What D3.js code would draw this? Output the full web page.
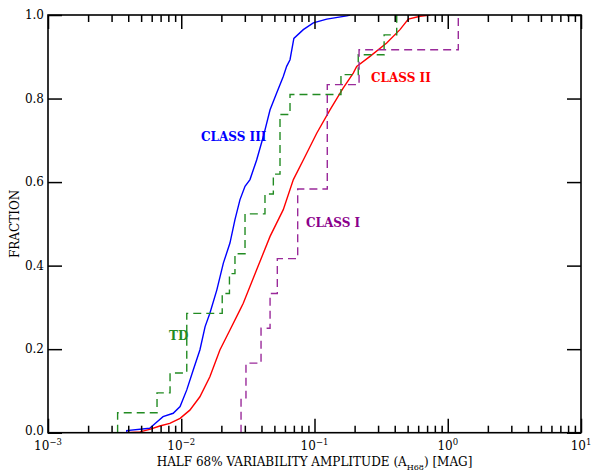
<!DOCTYPE html>
<html><head><meta charset="utf-8">
<script src="https://cdn.jsdelivr.net/npm/d3@7"></script>
<style>body{margin:0;background:#fff}</style>
</head><body>
<svg id="chart" width="594" height="471"></svg>
<script>
// ---- data ----
// CLASS III cumulative distribution [amplitude, fraction]
const classIII = [[0.0039,0.000],[0.0039,0.005],[0.0058,0.0105],[0.0064,0.0225],[0.0073,0.0385],[0.0087,0.0465],[0.0098,0.0625],[0.0110,0.1025],[0.0123,0.150],[0.0138,0.198],[0.0151,0.254],[0.0164,0.286],[0.0185,0.342],[0.0207,0.406],[0.0232,0.454],[0.0253,0.510],[0.0276,0.558],[0.0301,0.590],[0.0328,0.606],[0.0368,0.653],[0.0413,0.709],[0.0464,0.773],[0.0520,0.813],[0.0583,0.853],[0.0618,0.877],[0.0655,0.893],[0.0700,0.944],[0.0824,0.965],[0.0980,0.981],[0.1236,0.990],[0.1746,0.998],[0.1850,1.000]];
// CLASS II cumulative distribution [amplitude, fraction]
const classII = [[0.0038,0.000],[0.0049,0.002],[0.0058,0.008],[0.0069,0.016],[0.0082,0.0225],[0.0098,0.0345],[0.0116,0.054],[0.0138,0.086],[0.0164,0.134],[0.0195,0.198],[0.0232,0.246],[0.0276,0.294],[0.0292,0.310],[0.0368,0.390],[0.0464,0.470],[0.0583,0.534],[0.0694,0.606],[0.0824,0.653],[0.1039,0.717],[0.1307,0.773],[0.1640,0.825],[0.1954,0.861],[0.2073,0.877],[0.2610,0.901],[0.3480,0.933],[0.4380,0.965],[0.5060,0.990],[0.6200,0.997],[0.7400,1.000]];
// TD individual amplitudes (21 objects)
const tdValues = [0.00333,0.00658,0.00824,0.0110,0.0110,0.0110,0.0203,0.0230,0.0253,0.0301,0.0301,0.0425,0.0491,0.0551,0.0551,0.0551,0.0655,0.158,0.213,0.333,0.414];
// CLASS I individual amplitudes (12 objects)
const classIValues = [0.0281,0.0306,0.0397,0.0464,0.0526,0.0748,0.0748,0.1247,0.1247,0.1247,0.216,1.2];
const xTickExponents = [-3,-2,-1,0,1];
const yTickValues = [0,0.2,0.4,0.6,0.8,1.0];
const yTickLabels = ["0.0","0.2","0.4","0.6","0.8","1.0"];
const seriesNames = ["CLASS III","CLASS II","CLASS I","TD"];
const xTitle = ["HALF 68% VARIABILITY AMPLITUDE (A","H68",") [MAG]"];
const yTitle = "FRACTION";

// ---- layout ----
const svg = d3.select("#chart");
const L = 48, R = 581, T = 15, B = 432.7;
const FONT = "'DejaVu Serif', serif";
const x = d3.scaleLog().domain([1e-3, 10]).range([L, R]);
const y = d3.scaleLinear().domain([0, 1]).range([B, T]);

const majorX = xTickExponents.map(e => Math.pow(10, e));
const minorX = [];
xTickExponents.slice(0, -1).forEach(e => { for (let k = 2; k <= 9; k++) minorX.push(k * Math.pow(10, e)); });

svg.append("clipPath").attr("id", "clip").append("rect")
  .attr("x", L).attr("y", T).attr("width", R - L).attr("height", B - T);

const plot = svg.append("g").attr("clip-path", "url(#clip)");

function ecdf(vals) {
  const s = vals.slice().sort((a, b) => a - b), n = s.length, pts = [];
  s.forEach((v, i) => { pts.push([v, i / n]); pts.push([v, (i + 1) / n]); });
  return pts;
}
const line = d3.line().x(d => x(d[0])).y(d => y(d[1]));

plot.append("path").datum(classIII).attr("d", line)
  .attr("fill", "none").attr("stroke", "#0000ff").attr("stroke-width", 1.4);
plot.append("path").datum(classII).attr("d", line)
  .attr("fill", "none").attr("stroke", "#ff0000").attr("stroke-width", 1.4);
plot.append("path").datum(ecdf(tdValues)).attr("d", line)
  .attr("fill", "none").attr("stroke", "#228b22").attr("stroke-width", 1.4)
  .attr("stroke-dasharray", "8,5");
plot.append("path").datum(ecdf(classIValues)).attr("d", line)
  .attr("fill", "none").attr("stroke", "#9a2a9a").attr("stroke-width", 1.4)
  .attr("stroke-dasharray", "8,5");

// ---- axes / ticks ----
function styleAxis(g) {
  g.select(".domain").remove();
  g.selectAll(".tick line").attr("stroke", "#000").attr("stroke-width", 1.5);
}
svg.append("g").attr("transform", `translate(0,${B})`)
  .call(d3.axisBottom(x).tickValues(majorX).tickSize(-14).tickFormat("")).call(styleAxis);
svg.append("g").attr("transform", `translate(0,${B})`)
  .call(d3.axisBottom(x).tickValues(minorX).tickSize(-7).tickFormat("")).call(styleAxis);
svg.append("g").attr("transform", `translate(0,${T})`)
  .call(d3.axisTop(x).tickValues(majorX).tickSize(-14).tickFormat("")).call(styleAxis);
svg.append("g").attr("transform", `translate(0,${T})`)
  .call(d3.axisTop(x).tickValues(minorX).tickSize(-7).tickFormat("")).call(styleAxis);
svg.append("g").attr("transform", `translate(${L},0)`)
  .call(d3.axisLeft(y).tickValues(yTickValues).tickSize(-14).tickFormat("")).call(styleAxis);
svg.append("g").attr("transform", `translate(${R},0)`)
  .call(d3.axisRight(y).tickValues(yTickValues).tickSize(-14).tickFormat("")).call(styleAxis);

svg.append("rect").attr("x", L).attr("y", T).attr("width", R - L).attr("height", B - T)
  .attr("fill", "none").attr("stroke", "#000").attr("stroke-width", 1.6);

// y tick labels
svg.append("g").selectAll("text").data(yTickValues).join("text")
  .attr("x", L - 4).attr("y", d => y(d)).attr("dy", d => d === 0 ? "0.2em" : "0.36em")
  .attr("text-anchor", "end").attr("font-family", FONT).attr("font-size", 12)
  .attr("fill", "#000").text((d, i) => yTickLabels[i]);

// x tick labels 10^n
const xl = svg.append("g").selectAll("text").data(xTickExponents).join("text")
  .attr("x", e => x(Math.pow(10, e))).attr("y", 450)
  .attr("text-anchor", "middle").attr("font-family", FONT).attr("font-size", 12).attr("fill", "#000");
xl.append("tspan").text("10");
xl.append("tspan").attr("dy", -5).attr("font-size", 8.5).text(e => e < 0 ? "\u2212" + (-e) : String(e));

// axis titles
const xt = svg.append("text").attr("x", (L + R) / 2).attr("y", 466)
  .attr("text-anchor", "middle").attr("font-family", FONT).attr("font-size", 12).attr("fill", "#000");
xt.append("tspan").text(xTitle[0]);
xt.append("tspan").attr("dy", 3.5).attr("font-size", 8).text(xTitle[1]);
xt.append("tspan").attr("dy", -3.5).text(xTitle[2]);

svg.append("text").attr("transform", `translate(19,${(T + B) / 2}) rotate(-90)`)
  .attr("text-anchor", "middle").attr("font-family", FONT).attr("font-size", 12)
  .attr("fill", "#000").text(yTitle);

// series labels (placed in data coordinates)
const labelPos = [[0.01406, 0.699, "#0000ff"], [0.2655, 0.8404, "#ff0000"], [0.0863, 0.493, "#8b008b"], [0.00809, 0.222, "#228b22"]];
svg.append("g").selectAll("text").data(seriesNames).join("text")
  .attr("x", (d, i) => x(labelPos[i][0])).attr("y", (d, i) => y(labelPos[i][1]))
  .attr("font-family", FONT).attr("font-size", 12).attr("font-weight", "bold")
  .attr("fill", (d, i) => labelPos[i][2]).text(d => d);
</script>
</body></html>
